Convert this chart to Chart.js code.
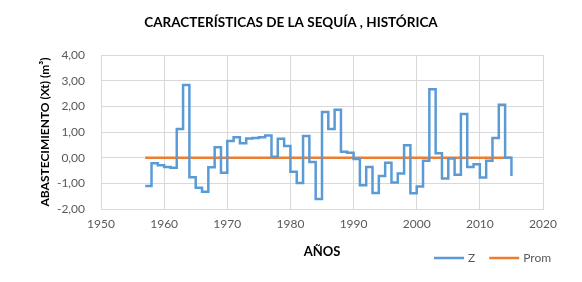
<!DOCTYPE html>
<html>
<head>
<meta charset="utf-8">
<script src="https://cdn.jsdelivr.net/npm/chart.js@4.4.0/dist/chart.umd.min.js"></script>
<style>
    html, body { margin: 0; padding: 0; background: #ffffff; }
    #wrap { width: 582px; height: 282px; position: relative; }
</style>
</head>
<body>
<div id="wrap"><canvas id="sequiaChart"></canvas></div>
<script>
// --- Datos ---
const years = [1957, 1958, 1959, 1960, 1961, 1962, 1963, 1964, 1965, 1966,
               1967, 1968, 1969, 1970, 1971, 1972, 1973, 1974, 1975, 1976,
               1977, 1978, 1979, 1980, 1981, 1982, 1983, 1984, 1985, 1986,
               1987, 1988, 1989, 1990, 1991, 1992, 1993, 1994, 1995, 1996,
               1997, 1998, 1999, 2000, 2001, 2002, 2003, 2004, 2005, 2006,
               2007, 2008, 2009, 2010, 2011, 2012, 2013, 2014, 2015];
const zValues = [-1.10, -0.22, -0.30, -0.36, -0.39, 1.12, 2.83, -0.76, -1.17, -1.33,
                 -0.37, 0.41, -0.59, 0.65, 0.80, 0.56, 0.75, 0.77, 0.80, 0.86,
                 0.04, 0.74, 0.45, -0.55, -0.99, 0.84, -0.17, -1.61, 1.78, 1.12,
                 1.87, 0.23, 0.19, -0.05, -1.07, -0.36, -1.38, -0.71, -0.20, -0.97,
                 -0.62, 0.48, -1.39, -1.12, -0.12, 2.67, 0.17, -0.81, -0.03, -0.67,
                 1.70, -0.36, -0.26, -0.77, -0.12, 0.77, 2.06, 0.00, -0.71];
const promYears = [1957, 2015];
const promValues = [0.00, 0.00];

const chartTitle = 'CARACTERÍSTICAS DE LA SEQUÍA , HISTÓRICA';
const xTitle = 'AÑOS';
const yTitle = 'ABASTECIMIENTO (Xt) (m³)';

const FONT = 'Lato, Calibri, "Liberation Sans", sans-serif';
const GRAY = '#595959';
const GRID = '#d9d9d9';

// titulo centrado en todo el lienzo + leyenda abajo a la derecha (como Excel)
const excelTitleLegend = {
    id: 'excelTitleLegend',
    afterDraw(chart) {
        const c = chart.ctx;
        c.save();
        c.fillStyle = '#000';
        c.font = 'bold 13.5px ' + FONT;
        c.textAlign = 'center';
        c.textBaseline = 'middle';
        c.fillText(chartTitle, chart.width / 2, 23);

        let x = 434;
        const y = 258;
        c.font = '12px ' + FONT;
        c.textAlign = 'left';
        chart.data.datasets.forEach(function (ds) {
            c.strokeStyle = ds.borderColor;
            c.lineWidth = 2.5;
            c.beginPath();
            c.moveTo(x, y);
            c.lineTo(x + 30, y);
            c.stroke();
            c.fillStyle = GRAY;
            c.fillText(ds.label, x + 34, y);
            x += 34 + c.measureText(ds.label).width + 14;
        });
        c.restore();
    }
};

const ctx = document.getElementById('sequiaChart');

new Chart(ctx, {
    type: 'line',
    data: {
        datasets: [
            {
                label: 'Z',
                data: years.map((yr, i) => ({ x: yr, y: zValues[i] })),
                borderColor: '#5b9bd5',
                borderWidth: 2.5,
                stepped: true,
                pointRadius: 0,
                fill: false
            },
            {
                label: 'Prom',
                data: promYears.map((yr, i) => ({ x: yr, y: promValues[i] })),
                borderColor: '#ed7d31',
                borderWidth: 2.5,
                pointRadius: 0,
                fill: false
            }
        ]
    },
    options: {
        responsive: true,
        maintainAspectRatio: false,
        animation: false,
        layout: { padding: { top: 55, right: 39, left: 0, bottom: 0 } },
        plugins: {
            legend: { display: false },
            title: { display: false },
            tooltip: { enabled: false }
        },
        scales: {
            x: {
                type: 'linear',
                min: 1950,
                max: 2020,
                ticks: {
                    stepSize: 10,
                    color: GRAY,
                    padding: 8,
                    font: { family: FONT, size: 12 },
                    callback: v => String(v)
                },
                grid: { color: GRID, drawTicks: false },
                border: { color: GRID },
                title: {
                    display: true,
                    text: xTitle,
                    color: '#000',
                    font: { family: FONT, size: 13, weight: 'bold' },
                    padding: { top: 0, bottom: 22 }
                },
                afterFit: s => { s.height = 73; }
            },
            y: {
                min: -2,
                max: 4,
                ticks: {
                    stepSize: 1,
                    color: GRAY,
                    padding: 16,
                    font: { family: FONT, size: 12 },
                    callback: v => v.toFixed(2).replace('.', ',')
                },
                grid: { color: GRID, drawTicks: false },
                border: { color: GRID },
                title: {
                    display: true,
                    text: yTitle,
                    color: '#000',
                    font: { family: FONT, size: 12, weight: 'bold' },
                    padding: { top: 38, bottom: 0 }
                },
                afterFit: s => { s.width = 101; }
            }
        }
    },
    plugins: [excelTitleLegend]
});
</script>
</body>
</html>
